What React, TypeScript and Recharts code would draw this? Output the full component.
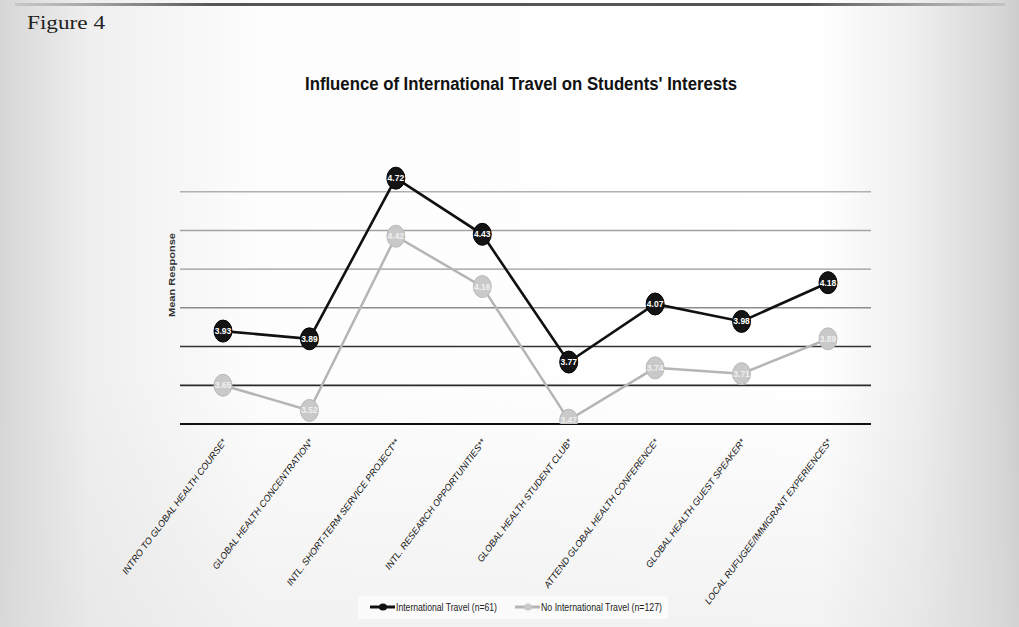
import React from 'react';
import { LineChart, Line, XAxis, YAxis, ReferenceLine } from 'recharts';

const categories = [
  'INTRO TO GLOBAL HEALTH COURSE*',
  'GLOBAL HEALTH CONCENTRATION*',
  'INTL. SHORT-TERM SERVICE PROJECT**',
  'INTL. RESEARCH OPPORTUNITIES**',
  'GLOBAL HEALTH STUDENT CLUB*',
  'ATTEND GLOBAL HEALTH CONFERENCE*',
  'GLOBAL HEALTH GUEST SPEAKER*',
  'LOCAL RUFUGEE/IMMIGRANT EXPERIENCES*',
];
const travelValues = [3.93, 3.89, 4.72, 4.43, 3.77, 4.07, 3.98, 4.18];
const noTravelValues = [3.65, 3.52, 4.42, 4.16, 3.47, 3.74, 3.71, 3.89];
const seriesNames = ['International Travel (n=61)', 'No International Travel (n=127)'];
const yTicks = [3.45, 3.65, 3.85, 4.05, 4.25, 4.45, 4.65];

const data = categories.map((c, i) => ({ category: c, travel: travelValues[i], noTravel: noTravelValues[i] }));

const gridStyles = [
  { stroke: '#111', w: 2.2 },
  { stroke: '#2a2a2a', w: 1.8 },
  { stroke: '#333', w: 1.6 },
  { stroke: '#8c8c8c', w: 1.5 },
  { stroke: '#999', w: 1.4 },
  { stroke: '#a2a2a2', w: 1.4 },
  { stroke: '#b0b0b0', w: 1.4 },
];

const makeDot = (fill: string, stroke: string, textFill: string) => (props: any) => {
  const { cx, cy, index, value } = props;
  if (cx == null || cy == null) return <g key={index} />;
  const v = Array.isArray(value) ? value[1] : value;
  return (
    <g key={index}>
      <ellipse cx={cx} cy={cy} rx={9} ry={11} fill={fill} stroke={stroke} strokeWidth={1} />
      <text x={cx} y={cy + 3} textAnchor="middle" fontSize={8.5} fontWeight="bold" fill={textFill}
        fontFamily="Liberation Sans, Arial, sans-serif">{Number(v).toFixed(2)}</text>
    </g>
  );
};

const XTick = (props: any) => {
  const { x, payload } = props;
  const ax = x + 4;
  const ay = 442;
  return (
    <text x={ax} y={ay} transform={`rotate(-53 ${ax} ${ay})`} textAnchor="end" fontSize={9.2}
      fontStyle="italic" fill="#111" fontFamily="Liberation Sans, Arial, sans-serif">
      {payload.value}
    </text>
  );
};

export default function App() {
  return (
    <div style={{
      position: 'absolute', left: 0, top: 0, width: 1019, height: 627, overflow: 'hidden',
      background: 'linear-gradient(to right, #d6d6d6 0px, #efefef 90px, #fdfdfd 260px, #ffffff 820px, #ededed 920px, #d6d6d6 1000px, #cdcdcd 1019px)',
    }}>
      <div style={{ position: 'absolute', left: 0, top: 0, width: 1019, height: 627,
        background: 'linear-gradient(to bottom, rgba(255,255,255,0) 60%, rgba(220,220,220,0.35) 100%)' }} />
      <div style={{ position: 'absolute', left: 15, top: 3, width: 990, height: 3,
        background: 'linear-gradient(to right, rgba(120,120,120,0.2), #555 20%, #555 80%, rgba(120,120,120,0.2))' }} />
      <div style={{ position: 'absolute', left: 0, top: 0 }}>
        <LineChart width={1019} height={627} data={data} margin={{ top: 153, right: 148, bottom: 43, left: 180 }}>
          <YAxis hide type="number" domain={[3.45, 4.85]} ticks={yTicks} allowDataOverflow />
          <XAxis dataKey="category" axisLine={false} tickLine={false} height={160} interval={0}
            padding={{ left: 43, right: 43 }} tick={<XTick />} />
          {yTicks.map((t, i) => (
            <ReferenceLine key={t} y={t} stroke={gridStyles[i].stroke} strokeWidth={gridStyles[i].w} />
          ))}
          <Line dataKey="noTravel" name={seriesNames[1]} stroke="#b5b5b5" strokeWidth={2.5}
            dot={makeDot('#c9c9c9', '#b9b9b9', '#f0f0f0')} isAnimationActive={false} />
          <Line dataKey="travel" name={seriesNames[0]} stroke="#111" strokeWidth={2.6}
            dot={makeDot('#141414', '#000', '#ffffff')} isAnimationActive={false} />
        </LineChart>
      </div>
      <svg width={1019} height={627} style={{ position: 'absolute', left: 0, top: 0, pointerEvents: 'none' }}>
        <text x={27} y={29} fontSize={19} fill="#222" fontFamily="Liberation Serif, DejaVu Serif, serif"
          textLength={78} lengthAdjust="spacingAndGlyphs">Figure 4</text>
        <text x={305} y={90} fontSize={18} fontWeight="bold" fill="#111" fontFamily="Liberation Sans, Arial, sans-serif"
          textLength={432} lengthAdjust="spacingAndGlyphs">Influence of International Travel on Students' Interests</text>
        <text x={0} y={0} transform="translate(175 275) rotate(-90)" textAnchor="middle" fontSize={8.5}
          fill="#333" fontWeight="bold" fontFamily="Liberation Sans, Arial, sans-serif"
          textLength={84} lengthAdjust="spacingAndGlyphs">Mean Response</text>
        <rect x={358} y={596} width={310} height={23} fill="#fbfbfb" />
        <line x1={370} y1={607} x2={395} y2={607} stroke="#111" strokeWidth={3} />
        <ellipse cx={383} cy={607} rx={4} ry={3.5} fill="#111" />
        <text x={396} y={611} fontSize={10.5} fill="#222" fontFamily="Liberation Sans, Arial, sans-serif"
          textLength={101} lengthAdjust="spacingAndGlyphs">{seriesNames[0]}</text>
        <line x1={515} y1={607} x2={540} y2={607} stroke="#b5b5b5" strokeWidth={3} />
        <ellipse cx={528} cy={607} rx={4} ry={3.5} fill="#c9c9c9" />
        <text x={541} y={611} fontSize={10.5} fill="#222" fontFamily="Liberation Sans, Arial, sans-serif"
          textLength={121} lengthAdjust="spacingAndGlyphs">{seriesNames[1]}</text>
      </svg>
    </div>
  );
}
